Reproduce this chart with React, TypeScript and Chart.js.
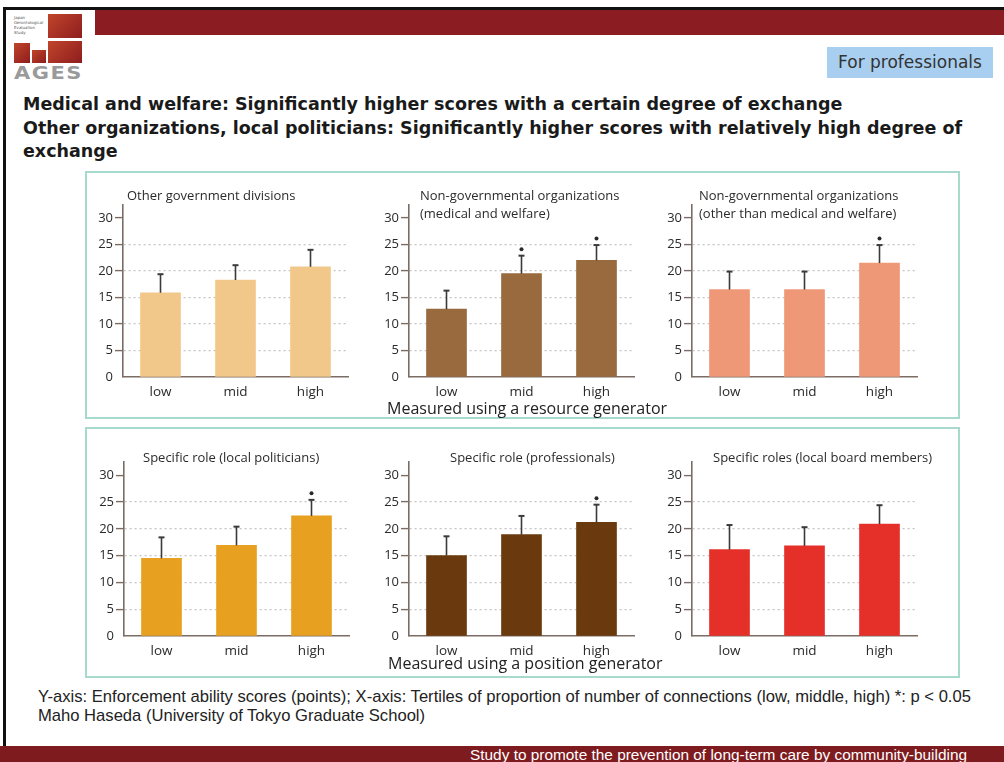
import React, { useEffect, useRef } from "react";
import { Chart, registerables } from "chart.js";

Chart.register(...registerables);

// ---------- data ----------
const categories = ["low", "mid", "high"];
const yTickValues = [0, 5, 10, 15, 20, 25, 30];

const otherGovTitle = ["Other government divisions"];
const otherGovMeans = [15.9, 18.3, 20.8];
const otherGovUpper = [19.4, 21.1, 24.0];
const otherGovSig = [false, false, false];

const ngoMedTitle = ["Non-governmental organizations", "(medical and welfare)"];
const ngoMedMeans = [12.8, 19.5, 22.0];
const ngoMedUpper = [16.3, 22.9, 24.9];
const ngoMedSig = [false, true, true];

const ngoOtherTitle = ["Non-governmental organizations", "(other than medical and welfare)"];
const ngoOtherMeans = [16.5, 16.5, 21.5];
const ngoOtherUpper = [19.9, 19.9, 24.9];
const ngoOtherSig = [false, false, true];

const politiciansTitle = ["Specific role (local politicians)"];
const politiciansMeans = [14.5, 16.9, 22.4];
const politiciansUpper = [18.4, 20.4, 25.4];
const politiciansSig = [false, false, true];

const professionalsTitle = ["Specific role (professionals)"];
const professionalsMeans = [15.0, 18.9, 21.2];
const professionalsUpper = [18.6, 22.4, 24.5];
const professionalsSig = [false, false, true];

const boardTitle = ["Specific roles (local board members)"];
const boardMeans = [16.1, 16.8, 20.9];
const boardUpper = [20.7, 20.3, 24.4];
const boardSig = [false, false, false];

// ---------- error bar plugin ----------
const errorBarPlugin = {
  id: "errorBars",
  afterDatasetsDraw(chart: any, _args: any, opts: any) {
    const upper: number[] = opts.upper || [];
    const sig: boolean[] = opts.sig || [];
    const meta = chart.getDatasetMeta(0);
    const yScale = chart.scales.y;
    const ctx = chart.ctx;
    ctx.save();
    meta.data.forEach((bar: any, i: number) => {
      const x = bar.x;
      const yb = bar.y;
      const yt = yScale.getPixelForValue(upper[i]);
      ctx.strokeStyle = "#3a3a3a";
      ctx.lineWidth = 1.6;
      ctx.beginPath();
      ctx.moveTo(x, yb);
      ctx.lineTo(x, yt);
      ctx.stroke();
      ctx.lineWidth = 2;
      ctx.beginPath();
      ctx.moveTo(x - 3, yt);
      ctx.lineTo(x + 3, yt);
      ctx.stroke();
      if (sig[i]) {
        ctx.fillStyle = "#2a2a2a";
        ctx.beginPath();
        ctx.arc(x, yt - 6.5, 2, 0, Math.PI * 2);
        ctx.fill();
      }
    });
    ctx.restore();
  },
};

type PanelProps = {
  means: number[];
  upper: number[];
  sig: boolean[];
  color: string;
  left: number;
  top: number;
  height: number;
};

function BarPanel({ means, upper, sig, color, left, top, height }: PanelProps) {
  const ref = useRef<HTMLCanvasElement>(null);
  useEffect(() => {
    if (!ref.current) return;
    const axisColor = "#7b6d66";
    const chart = new Chart(ref.current, {
      type: "bar",
      data: {
        labels: categories,
        datasets: [
          {
            data: means,
            backgroundColor: color,
            borderWidth: 0,
            barThickness: 40,
          },
        ],
      },
      options: {
        responsive: false,
        animation: false,
        devicePixelRatio: 1,
        layout: { padding: { top: 5, right: 8, left: 0, bottom: 0 } },
        plugins: {
          legend: { display: false },
          tooltip: { enabled: false },
          errorBars: { upper, sig },
        } as any,
        scales: {
          x: {
            afterFit: (s: any) => {
              s.height = 30;
            },
            grid: { display: false, drawTicks: false },
            border: { display: true, color: axisColor, width: 1.6 },
            ticks: {
              padding: 7,
              color: "#2a2a2a",
              font: { family: "'Open Sans', sans-serif", size: 13.5 },
            },
          },
          y: {
            min: 0,
            max: 32.5,
            afterFit: (s: any) => {
              s.width = 45;
            },
            afterBuildTicks: (s: any) => {
              s.ticks = yTickValues.map((v) => ({ value: v }));
            },
            grid: {
              drawTicks: true,
              tickLength: 8,
              lineWidth: 1.2,
              color: (c: any) =>
                c.tick && (c.tick.value === 0 || c.tick.value === 30) ? "rgba(0,0,0,0)" : "#c4c4c4",
              tickColor: (c: any) =>
                c.tick && c.tick.value === 0 ? "rgba(0,0,0,0)" : axisColor,
              tickWidth: 1.4,
            } as any,
            border: { display: true, color: axisColor, width: 1.6, dash: [2, 3] },
            ticks: {
              padding: 2,
              color: "#2a2a2a",
              font: { family: "'Open Sans', sans-serif", size: 13 },
              callback: (v: any) => String(v),
            },
          },
        },
      },
      plugins: [errorBarPlugin],
    });
    return () => chart.destroy();
  }, []);
  return (
    <canvas
      ref={ref}
      width={278}
      height={height}
      style={{ position: "absolute", left, top, width: 278, height }}
    />
  );
}

function PanelTitle({ lines, left, top }: { lines: string[]; left: number; top: number }) {
  return (
    <div
      style={{
        position: "absolute",
        left,
        top,
        fontFamily: "'Open Sans', sans-serif",
        fontSize: 13,
        lineHeight: "18px",
        color: "#2b2b2b",
        whiteSpace: "nowrap",
      }}
    >
      {lines.map((l, i) => (
        <div key={i}>{l}</div>
      ))}
    </div>
  );
}

function Logo() {
  const red = "linear-gradient(135deg,#c0452a,#8e1d1f)";
  return (
    <div style={{ position: "absolute", left: 12, top: 12, width: 74, height: 74 }}>
      <div style={{ position: "absolute", left: 2, top: 3, fontSize: 4, lineHeight: "5px", color: "#555", fontFamily: "'DejaVu Sans'" }}>
        Japan<br />Gerontological<br />Evaluation<br />Study
      </div>
      <div style={{ position: "absolute", left: 36, top: 2, width: 34, height: 24, background: red }} />
      <div style={{ position: "absolute", left: 36, top: 29, width: 34, height: 22, background: red }} />
      <div style={{ position: "absolute", left: 2, top: 31, width: 16, height: 20, background: red }} />
      <div style={{ position: "absolute", left: 20, top: 38, width: 14, height: 13, background: red }} />
      <div style={{ position: "absolute", left: 2, top: 53, fontFamily: "'DejaVu Sans'", fontWeight: "bold", fontSize: 21, lineHeight: "20px", color: "#9a9a9a", letterSpacing: 1.5, transform: "scaleY(0.85)", transformOrigin: "top left" }}>
        AGES
      </div>
    </div>
  );
}

export default function App() {
  const topRowTop = 195;
  const topRowH = 212;
  const botRowTop = 452;
  const botRowH = 214;
  return (
    <div
      style={{
        position: "absolute",
        left: 0,
        top: 0,
        width: 1004,
        height: 762,
        background: "#fff",
        overflow: "hidden",
      }}
    >
      {/* frame */}
      <div style={{ position: "absolute", left: 4, top: 7, width: 1000, height: 3, background: "#111" }} />
      <div style={{ position: "absolute", left: 3, top: 7, width: 3, height: 755, background: "#111" }} />
      <div style={{ position: "absolute", left: 95, top: 10, width: 909, height: 25, background: "#8a1c22" }} />
      <Logo />

      <div
        style={{
          position: "absolute",
          left: 827,
          top: 47,
          width: 166,
          height: 31,
          background: "#a9cff0",
          fontFamily: "'DejaVu Sans', sans-serif",
          fontSize: 17,
          lineHeight: "31px",
          textAlign: "center",
          color: "#333",
          whiteSpace: "nowrap",
        }}
      >
        For professionals
      </div>

      <div
        style={{
          position: "absolute",
          left: 23,
          top: 93,
          fontFamily: "'DejaVu Sans', sans-serif",
          fontWeight: "bold",
          fontSize: 17.5,
          lineHeight: "23.5px",
          color: "#1a1a1a",
          whiteSpace: "nowrap",
        }}
      >
        <div>Medical and welfare: Significantly higher scores with a certain degree of exchange</div>
        <div>Other organizations, local politicians: Significantly higher scores with relatively high degree of</div>
        <div>exchange</div>
      </div>

      {/* boxes */}
      <div style={{ position: "absolute", left: 85, top: 171, width: 871, height: 244, border: "2px solid #a8d9cd" }} />
      <div style={{ position: "absolute", left: 85, top: 427, width: 871, height: 247, border: "2px solid #a8d9cd" }} />

      <BarPanel means={otherGovMeans} upper={otherGovUpper} sig={otherGovSig} color="#f2c88a" left={123 - 45} top={topRowTop} height={topRowH} />
      <BarPanel means={ngoMedMeans} upper={ngoMedUpper} sig={ngoMedSig} color="#986a3e" left={409 - 45} top={topRowTop} height={topRowH} />
      <BarPanel means={ngoOtherMeans} upper={ngoOtherUpper} sig={ngoOtherSig} color="#ef9877" left={692 - 45} top={topRowTop} height={topRowH} />
      <BarPanel means={politiciansMeans} upper={politiciansUpper} sig={politiciansSig} color="#e8a021" left={124 - 45} top={botRowTop} height={botRowH} />
      <BarPanel means={professionalsMeans} upper={professionalsUpper} sig={professionalsSig} color="#6a3a0e" left={409 - 45} top={botRowTop} height={botRowH} />
      <BarPanel means={boardMeans} upper={boardUpper} sig={boardSig} color="#e5302a" left={692 - 45} top={botRowTop} height={botRowH} />

      <PanelTitle lines={otherGovTitle} left={127} top={186} />
      <PanelTitle lines={ngoMedTitle} left={420} top={186} />
      <PanelTitle lines={ngoOtherTitle} left={699} top={186} />
      <PanelTitle lines={politiciansTitle} left={143} top={448} />
      <PanelTitle lines={professionalsTitle} left={450} top={448} />
      <PanelTitle lines={boardTitle} left={713} top={448} />

      <div style={{ position: "absolute", left: 387, top: 397, fontFamily: "'Open Sans', sans-serif", fontSize: 16, lineHeight: "22px", color: "#222", whiteSpace: "nowrap" }}>
        Measured using a resource generator
      </div>
      <div style={{ position: "absolute", left: 388, top: 652, fontFamily: "'Open Sans', sans-serif", fontSize: 16, lineHeight: "22px", color: "#222", whiteSpace: "nowrap" }}>
        Measured using a position generator
      </div>

      <div
        style={{
          position: "absolute",
          left: 38,
          top: 687,
          fontFamily: "'Liberation Sans', sans-serif",
          fontSize: 16.6,
          lineHeight: "19px",
          color: "#222",
          whiteSpace: "nowrap",
        }}
      >
        <div>Y-axis: Enforcement ability scores (points); X-axis: Tertiles of proportion of number of connections (low, middle, high) *: p &lt; 0.05</div>
        <div>Maho Haseda (University of Tokyo Graduate School)</div>
      </div>

      <div
        style={{
          position: "absolute",
          left: 0,
          top: 746,
          width: 1004,
          height: 16,
          background: "#7e1b1f",
        }}
      />
      <div
        style={{
          position: "absolute",
          left: 470,
          top: 746,
          fontFamily: "'Liberation Sans', sans-serif",
          fontSize: 15.4,
          lineHeight: "17px",
          color: "#fff",
          whiteSpace: "nowrap",
        }}
      >
        Study to promote  the prevention of long-term care by community-building
      </div>
    </div>
  );
}
